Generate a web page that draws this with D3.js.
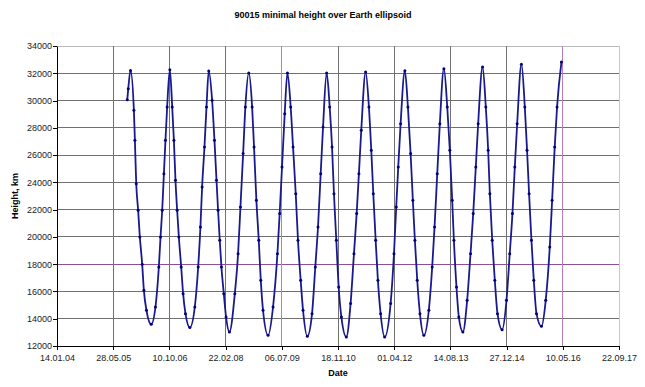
<!DOCTYPE html>
<html>
<head>
<meta charset="utf-8">
<script src="https://cdn.jsdelivr.net/npm/d3@7"></script>
<style>
  body { margin: 0; background: #fff; }
  text { font-family: "Liberation Sans", Arial, sans-serif; }
</style>
</head>
<body>
<script>
// Excel date serials (38000 = 14.01.2004) and heights in km
const dates = [
  38625, 38634, 38654, 38684, 38693, 38705, 38722, 38737, 38758, 38773, 38796, 38838,
  38876, 38906, 38921, 38936, 38951, 38965, 38980, 39004,
  39025, 39040, 39054, 39069, 39084, 39105, 39122, 39143, 39182,
  39226, 39256, 39276, 39291, 39312, 39330, 39350,
  39380, 39401, 39419, 39433, 39448, 39463, 39484, 39504, 39534,
  39582, 39611, 39632, 39656, 39676, 39706,
  39736, 39753, 39774, 39795, 39813, 39833, 39878,
  39922, 39961, 39981, 40002, 40026, 40050,
  40079, 40100, 40124, 40144, 40168, 40189, 40227,
  40269, 40298, 40322, 40346, 40367, 40399,
  40426, 40447, 40464, 40485, 40506, 40530, 40574,
  40612, 40642, 40666, 40686, 40707, 40746,
  40775, 40796, 40814, 40835, 40855, 40879, 40915,
  40968, 40998, 41018, 41036, 41057, 41095,
  41122, 41146, 41166, 41184, 41205, 41229, 41264,
  41308, 41338, 41359, 41383, 41406, 41442,
  41472, 41495, 41516, 41531, 41554, 41575, 41611,
  41649, 41679, 41703, 41726, 41747, 41786,
  41815, 41836, 41851, 41872, 41895, 41919, 41960,
  41999, 42028, 42052, 42073, 42094, 42132,
  42162, 42182, 42200, 42221, 42242, 42266, 42310,
  42348, 42384, 42405, 42428, 42449, 42488
];
const heights = [
  30050, 30870, 32210, 29280, 27080, 23900, 21950, 19990, 17990, 16080, 14620, 13590,
  14860, 17790, 19990, 21950, 24640, 27080, 29530, 32260,
  29530, 27080, 24150, 21950, 19990, 17790, 15840, 14370, 13350,
  14860, 17790, 20730, 23660, 26590, 29530, 32170,
  30020, 27080, 24150, 21950, 19750, 17790, 15840, 14130, 13030,
  15840, 18770, 22190, 26110, 29530, 32020,
  29530, 26590, 22680, 19750, 16820, 14620, 12780,
  14860, 18770, 21710, 25130, 29040, 32020,
  29530, 26590, 23170, 19750, 16820, 14620, 12710,
  14370, 17790, 20730, 24640, 28060, 32020,
  29530, 26590, 23170, 19750, 16330, 14130, 12660,
  15110, 18770, 21710, 24640, 27820, 32090,
  29530, 26350, 23170, 19750, 16820, 14370, 12660,
  15110, 18770, 22190, 25130, 28300, 32190,
  29530, 26110, 22680, 19750, 16820, 14370, 12780,
  14620, 17790, 20730, 24640, 28300, 32340,
  29530, 26350, 22680, 19750, 16330, 14130, 13030,
  15350, 18770, 21710, 25130, 28300, 32460,
  29530, 26350, 23170, 19750, 16820, 14370, 13200,
  15350, 18770, 21710, 25130, 28300, 32660,
  29530, 26350, 23170, 19750, 16820, 14370, 13440,
  15350, 19260, 22680, 26590, 29530, 32830
];
const xTicks = [38000, 38500, 39000, 39500, 40000, 40500, 41000, 41500, 42000, 42500, 43000];
const yTicks = [12000, 14000, 16000, 18000, 20000, 22000, 24000, 26000, 28000, 30000, 32000, 34000];
const purpleX = [40000, 42500];
const purpleY = [18000];

const width = 645;
const height = 387;
const marginTop = 46;
const marginRight = 26;
const marginBottom = 41;
const marginLeft = 57;

const chartWidth = width - marginLeft - marginRight;
const chartHeight = height - marginTop - marginBottom;

const svg = d3.select("body")
  .append("svg")
  .attr("width", width)
  .attr("height", height);

// excel serial -> dd.mm.yy
const excelEpoch = Date.UTC(1899, 11, 30);
const fmt = d3.utcFormat("%d.%m.%y");
const serialLabel = s => fmt(new Date(excelEpoch + s * 86400000));

const xScale = d3.scaleLinear().domain([38000, 43000]).range([0, chartWidth]);
const yScale = d3.scaleLinear().domain([12000, 34000]).range([chartHeight, 0]);

const g = svg.append("g")
  .attr("transform", "translate(" + marginLeft + "," + marginTop + ")");

// grid
g.append("g").selectAll("line")
  .data(yTicks)
  .join("line")
  .attr("x1", 0).attr("x2", chartWidth)
  .attr("y1", d => yScale(d)).attr("y2", d => yScale(d))
  .attr("stroke", d => purpleY.includes(d) ? "#8e4f96" : (d === 34000 ? "#b8b8b8" : "#707070"))
  .attr("stroke-width", 1)
  .attr("shape-rendering", "crispEdges");

g.append("g").selectAll("line")
  .data(xTicks)
  .join("line")
  .attr("x1", d => xScale(d)).attr("x2", d => xScale(d))
  .attr("y1", 0).attr("y2", chartHeight)
  .attr("stroke", d => purpleX.includes(d) ? "#b77fbf" : (d === 43000 ? "#c8c8c8" : "#707070"))
  .attr("stroke-width", 1)
  .attr("shape-rendering", "crispEdges");

// axes
const xAxis = g.append("g")
  .attr("transform", "translate(0," + chartHeight + ")")
  .call(d3.axisBottom(xScale).tickValues(xTicks).tickFormat(serialLabel).tickSize(4).tickSizeOuter(0));
const yAxis = g.append("g")
  .call(d3.axisLeft(yScale).tickValues(yTicks).tickFormat(d3.format("d")).tickSize(4).tickSizeOuter(0));

[xAxis, yAxis].forEach(a => {
  a.select(".domain").attr("stroke", "#000").attr("shape-rendering", "crispEdges");
  a.selectAll(".tick line").attr("stroke", "#000").attr("shape-rendering", "crispEdges");
  a.selectAll("text")
    .attr("font-size", "9px")
    .attr("font-family", "Liberation Sans, Arial")
    .attr("fill", "#222");
});
xAxis.selectAll("text").attr("dy", "0.9em");
yAxis.selectAll("text").attr("x", -5);

// series
const points = dates.map((d, i) => ({ x: d, y: heights[i] }));

const line = d3.line()
  .x(d => xScale(d.x))
  .y(d => yScale(d.y))
  .curve(d3.curveMonotoneX);

g.append("path")
  .datum(points)
  .attr("fill", "none")
  .attr("stroke", "#1a1a8e")
  .attr("stroke-width", 1.8)
  .attr("d", line);

g.append("g").selectAll("circle")
  .data(points)
  .join("circle")
  .attr("cx", d => xScale(d.x))
  .attr("cy", d => yScale(d.y))
  .attr("r", 1.5)
  .attr("fill", "#000080");

// titles
svg.append("text")
  .attr("x", 323)
  .attr("y", 18)
  .attr("text-anchor", "middle")
  .attr("font-size", "9px")
  .attr("font-weight", "bold")
  .text("90015 minimal height over Earth ellipsoid");

svg.append("text")
  .attr("x", marginLeft + chartWidth / 2)
  .attr("y", 376)
  .attr("text-anchor", "middle")
  .attr("font-size", "9px")
  .attr("font-weight", "bold")
  .text("Date");

svg.append("text")
  .attr("transform", "translate(18," + (marginTop + chartHeight / 2) + ") rotate(-90)")
  .attr("text-anchor", "middle")
  .attr("font-size", "9px")
  .attr("font-weight", "bold")
  .text("Height, km");
</script>
</body>
</html>
